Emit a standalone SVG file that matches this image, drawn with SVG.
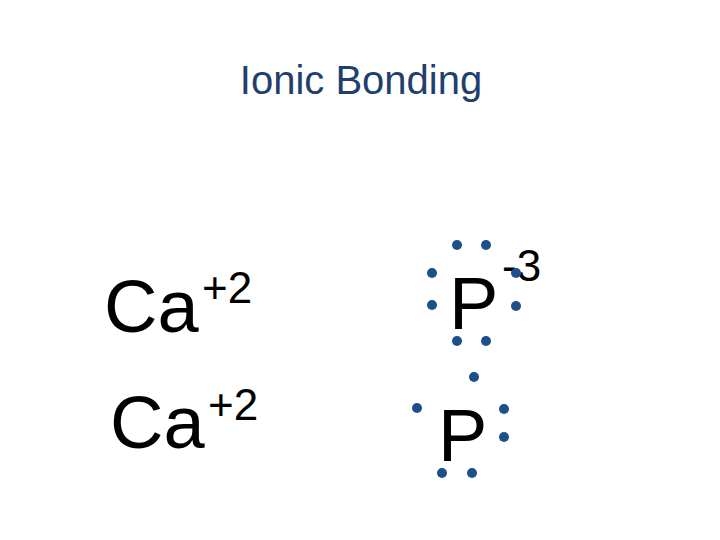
<svg xmlns="http://www.w3.org/2000/svg" width="720" height="540" viewBox="0 0 720 540">
<style>
text{font-family:"Liberation Sans",Arial,sans-serif;fill:#000}
.t{fill:#1f3f6e;font-size:40px}
.big{font-size:74px}
.sup{font-size:44px}
.d{fill:#1f4e8c}
</style>
<rect width="720" height="540" fill="#fff"/>
<g id="title"><text class="t" x="361" y="94" text-anchor="middle">Ionic Bonding</text></g>
<g id="ca1"><text class="big" x="104" y="332">Ca</text><text class="sup" x="202" y="303">+2</text></g>
<g id="ca2"><text class="big" x="110" y="448">Ca</text><text class="sup" x="208" y="420">+2</text></g>
<g id="p1"><text class="big" x="449" y="329">P</text><text class="sup" x="502" y="281">-3</text>
<g class="d"><circle cx="457" cy="245" r="5"/><circle cx="486" cy="245" r="5"/><circle cx="432" cy="273" r="5"/><circle cx="432" cy="305" r="5"/><circle cx="516" cy="273" r="5"/><circle cx="516" cy="306" r="5"/><circle cx="457" cy="341" r="5"/><circle cx="486" cy="341" r="5"/></g></g>
<g id="p2"><text class="big" x="438" y="461">P</text>
<g class="d"><circle cx="474" cy="377" r="5"/><circle cx="417" cy="408" r="5"/><circle cx="504" cy="409" r="5"/><circle cx="504" cy="437" r="5"/><circle cx="442" cy="473" r="5"/><circle cx="472" cy="473" r="5"/></g></g>
<g id="connectors"/>
</svg>
